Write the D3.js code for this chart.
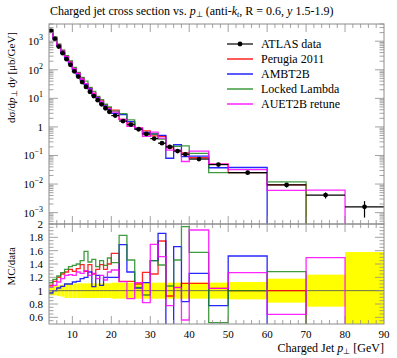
<!DOCTYPE html>
<html><head><meta charset="utf-8">
<script src="https://cdn.jsdelivr.net/npm/d3@7"></script>
<style>body{margin:0;background:#fff}svg{display:block}text{font-family:"Liberation Serif",serif;fill:#000}</style>
</head><body>
<svg id="c" width="397" height="358"></svg>
<script>
// ---- data ----
const binEdges = [4,5,6,7,8,9,10,11,12,13,14,15,16,17,18,19,20,22,24,26,28,30,32,34,36,38,40,45,50,60,70,80,90];
const atlasData = [2300,1200,650,380,235,150,88,58,37,25,17,12,8.6,6.2,4.5,3.4,2.5,1.6,1.2,0.83,0.57,0.39,0.27,0.2,0.143,0.11,0.075,0.048,0.025,0.0093,0.0041,0.0016];
const atlasRelErr = [0.07,0.07,0.08,0.09,0.11,0.11,0.11,0.11,0.11,0.11,0.11,0.11,0.11,0.11,0.11,0.11,0.12,0.12,0.12,0.12,0.12,0.12,0.12,0.12,0.12,0.12,0.12,0.12,0.13,0.18,0.24,0.58];
const perugiaRatio = [1.08,1.14,1.20,1.25,1.28,1.32,1.29,1.33,1.39,1.29,1.39,1.25,1.32,1.39,1.32,1.40,1.56,1.14,1.14,1.10,1.275,1.25,1.745,0.92,1.05,1.11,1.11,1.035,1.0,1.0,null,null];
const ambtRatio = [0.965,1.0,1.04,1.065,1.10,1.10,1.13,1.14,1.18,1.20,1.28,1.06,1.23,1.08,1.20,1.20,1.20,1.69,1.28,1.04,1.12,1.45,1.86,0.40,1.66,0.835,1.26,0.775,1.52,null,null,null];
const lockedRatio = [1.12,1.17,1.22,1.27,1.32,1.36,1.38,1.40,1.45,1.59,1.43,1.47,1.36,1.45,1.38,1.49,1.42,1.83,1.46,1.05,0.935,1.45,1.385,1.07,1.46,1.96,1.575,0.52,1.0,1.285,null,null];
const auetRatio = [1.055,1.08,1.13,1.18,1.23,1.24,1.23,1.28,1.26,1.30,1.23,1.26,1.18,1.23,1.16,1.28,1.31,1.135,0.88,1.12,0.82,1.695,1.51,0.775,1.045,0.56,1.91,1.035,1.27,0.645,1.495,null];
const seriesNames = ["Perugia 2011","AMBT2B","Locked Lambda","AUET2B retune"];
const seriesColors = ["#ff0000","#0000ff","#1f8a1f","#ff00ff"];
const xTickValues = [10,20,30,40,50,60,70,80,90];
const ratioTickValues = [0.6,0.8,1,1.2,1.4,1.6,1.8,2];
const logTickExps = [-3,-2,-1,0,1,2,3];

const svg = d3.select("#c");
const L=49,R=384,T1=24,B1=224,T2=224,B2=324;
const x = d3.scaleLinear([4,90],[L,R]);
const yT = d3.scaleLog([4e-4,4e3],[B1,T1]);
const yR = d3.scaleLinear([0.5,2],[B2,T2]);
const frameCol="#8c8c8c";

const defs = svg.append("defs");
defs.append("clipPath").attr("id","cp1").append("rect").attr("x",L).attr("y",T1).attr("width",R-L).attr("height",B1-T1);
defs.append("clipPath").attr("id","cp2").append("rect").attr("x",L).attr("y",T2).attr("width",R-L).attr("height",B2-T2);

const ratios=[perugiaRatio,ambtRatio,lockedRatio,auetRatio];
function stepPath(vals, ys, bottom){
  let p="";
  let started=false;
  for(let i=0;i<vals.length;i++){
    const v=vals[i];
    const yy = v==null? bottom+20 : ys(v);
    const x0=x(binEdges[i]), x1=x(binEdges[i+1]);
    if(!started){p+=`M${x0},${yy}`;started=true;} else p+=`V${yy}`;
    p+=`H${x1}`;
  }
  p+=`V${bottom+20}`;
  return p;
}

// yellow band
const gR = svg.append("g").attr("clip-path","url(#cp2)");
gR.selectAll("rect.band").data(atlasRelErr).join("rect")
  .attr("x",(d,i)=>x(binEdges[i])).attr("width",(d,i)=>x(binEdges[i+1])-x(binEdges[i]))
  .attr("y",d=>yR(1+d)).attr("height",d=>yR(1-d)-yR(1+d)).attr("fill","#ffff00");
gR.append("line").attr("x1",L).attr("x2",R).attr("y1",yR(1)).attr("y2",yR(1)).attr("stroke","#6e6e50").attr("stroke-width",1);

// MC histograms
const g1 = svg.append("g").attr("clip-path","url(#cp1)");
ratios.forEach((r,k)=>{
  const mc = r.map((v,i)=>v==null?null:v*atlasData[i]);
  g1.append("path").attr("d",stepPath(mc,yT,B1)).attr("fill","none").attr("stroke",seriesColors[k]).attr("stroke-width",1.3).attr("stroke-opacity",0.85);
  gR.append("path").attr("d",stepPath(r,yR,B2)).attr("fill","none").attr("stroke",seriesColors[k]).attr("stroke-width",1.3).attr("stroke-opacity",0.85);
});

// data points
atlasData.forEach((v,i)=>{
  const cx=x((binEdges[i]+binEdges[i+1])/2), cy=yT(v);
  g1.append("line").attr("x1",x(binEdges[i])).attr("x2",x(binEdges[i+1])).attr("y1",cy).attr("y2",cy).attr("stroke","#000").attr("stroke-width",1.2);
  g1.append("line").attr("x1",cx).attr("x2",cx).attr("y1",yT(v*(1+atlasRelErr[i]))).attr("y2",yT(Math.max(v*(1-atlasRelErr[i]),1e-6))).attr("stroke","#000").attr("stroke-width",1.2);
  g1.append("circle").attr("cx",cx).attr("cy",cy).attr("r",2.4).attr("fill","#000");
});

// frames and ticks
function frame(top,bot){
  svg.append("rect").attr("x",L).attr("y",top).attr("width",R-L).attr("height",bot-top).attr("fill","none").attr("stroke",frameCol).attr("stroke-width",1);
  const g=svg.append("g").attr("stroke",frameCol).attr("stroke-width",0.8);
  for(let v=4;v<=90;v+=2){
    if(v===4||v===90) continue;
    const len = v%10===0?8:4;
    const xx=x(v);
    g.append("line").attr("x1",xx).attr("x2",xx).attr("y1",top).attr("y2",top+len);
    g.append("line").attr("x1",xx).attr("x2",xx).attr("y1",bot).attr("y2",bot-len);
  }
  return g;
}
const gf1=frame(T1,B1);
logTickExps.forEach(e=>{
  const yy=yT(Math.pow(10,e));
  gf1.append("line").attr("x1",L).attr("x2",L+9).attr("y1",yy).attr("y2",yy);
  gf1.append("line").attr("x1",R).attr("x2",R-9).attr("y1",yy).attr("y2",yy);
});
for(let e=-4;e<=3;e++){for(let m=2;m<=9;m++){const v=m*Math.pow(10,e); if(v<4e-4||v>4e3) continue; const yy=yT(v);
  gf1.append("line").attr("x1",L).attr("x2",L+4.5).attr("y1",yy).attr("y2",yy);
  gf1.append("line").attr("x1",R).attr("x2",R-4.5).attr("y1",yy).attr("y2",yy);}}
const gf2=frame(T2,B2);
for(let k=10;k<=40;k++){const v=k*0.05; const yy=yR(v); const major=k%4===0;
  if(v<=0.5||v>=2) continue;
  gf2.append("line").attr("x1",L).attr("x2",L+(major?9:4.5)).attr("y1",yy).attr("y2",yy);
  gf2.append("line").attr("x1",R).attr("x2",R-(major?9:4.5)).attr("y1",yy).attr("y2",yy);}

// tick labels
const lab=svg.append("g").attr("font-size",11);
logTickExps.forEach(e=>{
  const t=lab.append("text").attr("x",43).attr("y",yT(Math.pow(10,e))+4).attr("text-anchor","end");
  if(e===0){t.text("1");}
  else{t.append("tspan").text("10");t.append("tspan").attr("dy",-5).attr("font-size",8).text(String(e).replace("-","\u2212"));}
});
ratioTickValues.forEach(v=>{
  lab.append("text").attr("x",43).attr("y",yR(v)+4).attr("text-anchor","end").text(String(v));
});
xTickValues.forEach(v=>{
  lab.append("text").attr("x",x(v)).attr("y",338).attr("text-anchor","middle").text(String(v));
});

// axis titles
const xt=svg.append("text").attr("x",R).attr("y",352).attr("text-anchor","end").attr("font-size",12);
xt.append("tspan").text("Charged Jet ");xt.append("tspan").attr("font-style","italic").text("p");xt.append("tspan").attr("font-size",8).attr("dy",2).text("\u22A5");xt.append("tspan").attr("dy",-2).text(" [GeV]");
const yt=svg.append("text").attr("transform","translate(15,32) rotate(-90)").attr("text-anchor","end").attr("font-size",11);
yt.append("tspan").text("d\u03C3/d");yt.append("tspan").attr("font-style","italic").text("p");yt.append("tspan").attr("font-size",8).attr("dy",2).text("\u22A5");yt.append("tspan").attr("dy",-2).text(" d");yt.append("tspan").attr("font-style","italic").text("y");yt.append("tspan").text(" [\u03BCb/GeV]");
svg.append("text").attr("transform","translate(15,247) rotate(-90)").attr("text-anchor","end").attr("font-size",11).text("MC/data");

// title
const tt=svg.append("text").attr("x",50).attr("y",15).attr("font-size",12);
tt.append("tspan").text("Charged jet cross section vs. ");tt.append("tspan").attr("font-style","italic").text("p");tt.append("tspan").attr("font-size",8).attr("dy",2).text("\u22A5");
tt.append("tspan").attr("dy",-2).text(" (anti-");tt.append("tspan").attr("font-style","italic").text("k");tt.append("tspan").attr("font-size",8).attr("dy",2).attr("font-style","italic").text("t");
tt.append("tspan").attr("dy",-2).text(", R = 0.6, ");tt.append("tspan").attr("font-style","italic").text("y");tt.append("tspan").text(" 1.5-1.9)");

// legend
const leg=svg.append("g").attr("font-size",12);
const legNames=["ATLAS data"].concat(seriesNames), legCols=["#000"].concat(seriesColors);
legNames.forEach((n,i)=>{
  const yy=44+i*15;
  leg.append("line").attr("x1",227).attr("x2",253).attr("y1",yy).attr("y2",yy).attr("stroke",legCols[i]).attr("stroke-width",i===0?1.2:1.3);
  if(i===0) leg.append("circle").attr("cx",240).attr("cy",yy).attr("r",2.4).attr("fill","#000");
  leg.append("text").attr("x",261).attr("y",yy+4).text(n);
});
</script></body></html>
